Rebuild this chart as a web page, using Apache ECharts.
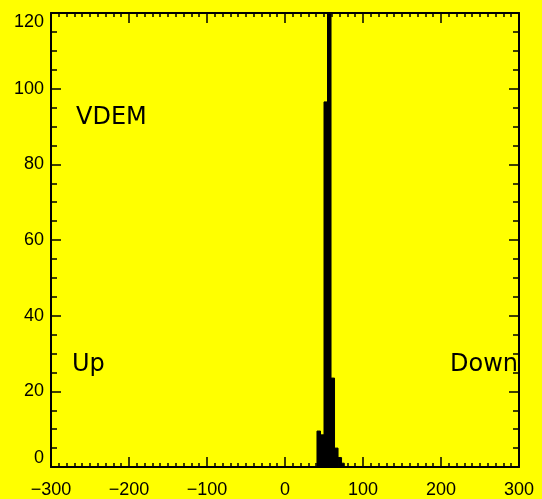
<!DOCTYPE html>
<html><head><meta charset="utf-8">
<script src="https://cdn.jsdelivr.net/npm/echarts@6/dist/echarts.min.js"></script>
<style>html,body{margin:0;padding:0;background:#ffff00}#c{width:542px;height:499px}</style>
</head><body><div id="c"></div>
<script>
// Histogram bins (value units) and counts
const binStarts = [41, 45.5, 50, 54.5, 59, 63.5, 68, 72.5];
const binEnds   = [45.5, 50, 54.5, 59, 63.5, 68, 72.5, 76];
const counts    = [9.5, 8.5, 96.5, 150, 23.5, 5, 2.5, 1];
const xRange = [-300, 300];
const yRange = [0, 120];
const labelTexts = ['VDEM', 'Up', 'Down'];

const data = binStarts.map((s, i) => [s, binEnds[i], counts[i]]);
const chart = echarts.init(document.getElementById('c'), null, {renderer: 'canvas'});
const fmtX = v => v < 0 ? '\u2212' + (-v) : String(v);
const lineStyle = {color: '#000', width: 2};
const tickStyle = {color: '#000', width: 1.5};
const labelFont = {color: '#000', fontFamily: 'Liberation Sans', fontSize: 18};

function xAx(pos, showLabel) {
  return {
    type: 'value', position: pos, min: xRange[0], max: xRange[1], interval: 100,
    axisLine: {show: true, onZero: false, lineStyle},
    axisTick: {show: true, inside: true, length: 10, lineStyle: tickStyle},
    minorTick: {show: true, splitNumber: 10, length: 4, lineStyle: tickStyle},
    splitLine: {show: false}, minorSplitLine: {show: false},
    axisLabel: Object.assign({show: showLabel, margin: 14, formatter: fmtX}, labelFont)
  };
}
function yAx(pos, showLabel) {
  return {
    type: 'value', position: pos, min: yRange[0], max: yRange[1], interval: 20,
    axisLine: {show: true, onZero: false, lineStyle},
    axisTick: {show: true, inside: true, length: 10, lineStyle: tickStyle},
    minorTick: {show: true, splitNumber: 4, length: 6, lineStyle: tickStyle},
    splitLine: {show: false}, minorSplitLine: {show: false},
    axisLabel: Object.assign({show: showLabel, margin: 7,
      verticalAlignMinLabel: 'bottom', verticalAlignMaxLabel: 'top'}, labelFont)
  };
}

const textFont = '24px "DejaVu Sans"';
chart.setOption({
  backgroundColor: '#ffff00',
  animation: false,
  grid: {left: 51, right: 23, top: 13, bottom: 32, containLabel: false},
  xAxis: [xAx('bottom', true), xAx('top', false)],
  yAxis: [yAx('left', true), yAx('right', false)],
  series: [{
    type: 'custom',
    xAxisIndex: 0, yAxisIndex: 0,
    encode: {x: [0, 1], y: 2},
    data: data,
    renderItem(params, api) {
      const p0 = api.coord([api.value(0), 0]);
      const p1 = api.coord([api.value(1), api.value(2)]);
      const cs = params.coordSys;
      const rect = echarts.graphic.clipRectByRect(
        {x: p0[0], y: p1[1], width: p1[0] - p0[0], height: p0[1] - p1[1]},
        {x: cs.x, y: cs.y, width: cs.width, height: cs.height});
      return rect && {type: 'rect', shape: rect, style: {fill: '#000', stroke: '#000', lineWidth: 1}};
    }
  }],
  graphic: [
    {type: 'text', x: 76, y: 118, style: {text: labelTexts[0], fill: '#000', font: textFont, verticalAlign: 'middle'}},
    {type: 'text', x: 72, y: 365, style: {text: labelTexts[1], fill: '#000', font: textFont, verticalAlign: 'middle'}},
    {type: 'text', x: 518, y: 365, style: {text: labelTexts[2], fill: '#000', font: textFont, align: 'right', verticalAlign: 'middle'}}
  ]
});
</script></body></html>
